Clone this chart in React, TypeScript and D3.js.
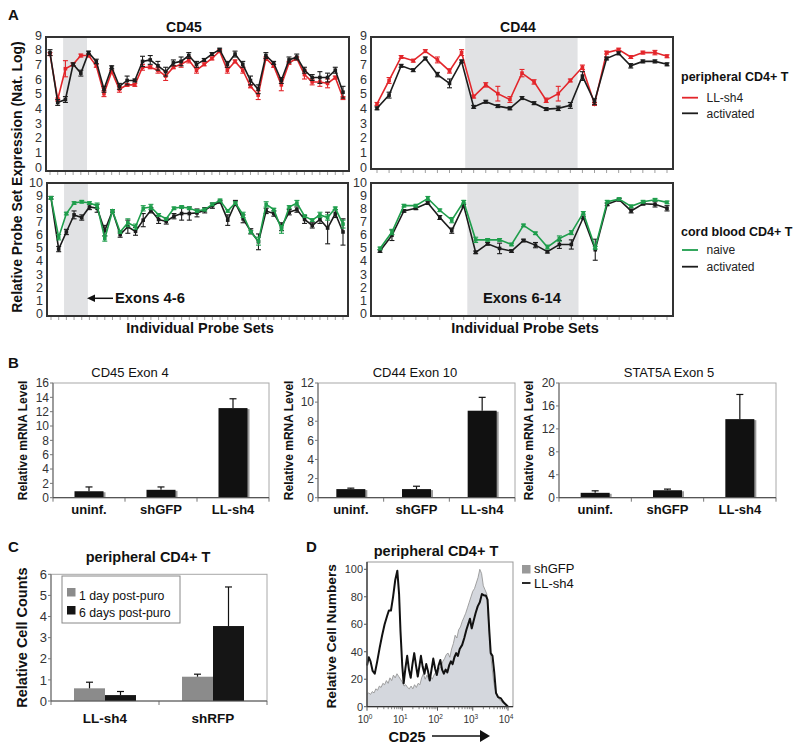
import React from "react";
import * as d3 from "d3";

const FONT = "'Liberation Sans', Arial, Helvetica, sans-serif";

// ---------------- Panel A data ----------------
const cd45Activated = [7.8,4.4,4.6,7.0,6.4,7.8,7.2,5.3,6.8,5.5,5.9,5.9,7.2,7.3,6.9,6.5,7.1,7.2,7.6,7.0,7.3,7.7,8.0,7.0,7.7,7.0,5.9,5.3,7.6,7.1,5.9,7.3,7.5,6.6,6.1,6.1,6.1,6.6,5.1];
const cd45ActivatedErr = [0.2,0.2,0.2,0.1,0.2,0.1,0.15,0.2,0.1,0.2,0.3,0.1,0.35,0.3,0.3,0.3,0.2,0.3,0.2,0.2,0.1,0.1,0.1,0.2,0.2,0.2,0.3,0.3,0.2,0.1,0.2,0.2,0.2,0.2,0.2,0.4,0.3,0.2,0.4];
const cd45LLsh4 = [7.7,4.6,6.7,7.0,7.6,7.6,6.9,5.0,6.5,5.3,5.6,5.6,6.8,6.8,6.6,6.2,6.8,7.0,7.3,6.6,7.0,7.4,7.9,6.6,7.2,6.6,5.5,4.9,7.4,6.9,5.6,7.1,7.4,6.3,5.8,5.8,5.7,6.1,4.7];
const cd45LLsh4Err = [0.1,0.1,0.55,0.1,0.1,0.1,0.1,0.2,0.1,0.2,0.1,0.1,0.2,0.1,0.2,0.3,0.1,0.2,0.2,0.2,0.1,0.1,0.1,0.2,0.1,0.2,0.1,0.3,0.1,0.1,0.4,0.1,0.1,0.3,0.2,0.3,0.3,0.1,0.1];

const cd44Activated = [4.0,4.9,6.9,6.6,7.4,6.3,5.7,7.2,4.1,4.45,4.15,4.0,4.7,4.35,3.95,4.0,4.2,6.2,4.45,7.4,7.75,6.9,7.2,7.2,7.0];
const cd44ActivatedErr = [0.1,0.2,0.1,0.1,0.1,0.15,0.3,0.1,0.1,0.1,0.1,0.1,0.1,0.1,0.1,0.15,0.2,0.3,0.2,0.1,0.1,0.15,0.1,0.1,0.1];
const cd44LLsh4 = [4.3,5.9,7.5,7.25,7.9,7.3,6.55,7.8,4.8,5.6,5.0,4.6,6.4,5.8,4.55,5.0,5.9,6.8,4.3,7.8,8.0,7.5,7.8,7.8,7.55];
const cd44LLsh4Err = [0.1,0.2,0.1,0.1,0.1,0.2,0.15,0.2,0.1,0.15,0.5,0.2,0.25,0.15,0.15,0.5,0.1,0.15,0.1,0.1,0.1,0.1,0.1,0.15,0.1];

const cbCd45Activated = [8.8,4.9,6.2,7.5,7.3,8.1,8.0,6.3,7.8,6.0,6.6,6.25,7.1,7.85,7.15,7.0,7.4,7.6,7.6,7.65,7.85,8.2,8.5,7.1,8.4,7.2,6.25,5.45,7.8,7.6,6.6,7.7,7.9,7.15,6.7,7.15,6.5,7.6,6.2];
const cbCd45ActivatedErr = [0.1,0.2,0.2,0.3,0.2,0.2,0.3,0.4,0.1,0.2,0.5,0.3,0.5,0.2,0.3,0.2,0.2,0.5,0.5,0.3,0.2,0.2,0.1,0.4,0.2,0.3,0.2,0.6,0.2,0.2,0.3,0.2,0.2,0.3,0.2,0.3,1.2,0.3,1.0];
const cbCd45Naive = [8.8,5.8,7.6,8.4,8.5,8.4,8.2,5.7,7.8,6.2,6.9,6.6,8.0,8.1,7.5,7.2,8.0,8.1,8.0,7.8,7.9,8.3,8.6,7.8,8.4,7.5,6.2,5.5,8.3,7.9,6.4,8.1,8.4,7.4,7.1,7.5,7.3,8.0,6.8];
const cbCd45NaiveErr = [0.1,0.2,0.1,0.1,0.1,0.1,0.2,0.2,0.1,0.1,0.3,0.2,0.2,0.2,0.1,0.1,0.1,0.1,0.1,0.1,0.1,0.1,0.1,0.1,0.1,0.2,0.1,0.3,0.2,0.1,0.3,0.1,0.2,0.1,0.1,0.2,0.2,0.1,0.3];

const cbCd44Activated = [4.75,5.95,7.8,8.0,8.4,7.3,6.3,8.2,4.65,5.3,4.95,4.75,5.55,5.2,4.7,5.25,5.25,7.3,4.85,8.3,8.65,7.8,8.35,8.3,8.0];
const cbCd44ActivatedErr = [0.1,0.4,0.1,0.1,0.1,0.15,0.2,0.1,0.1,0.1,0.4,0.1,0.1,0.2,0.1,0.3,0.35,0.1,0.8,0.1,0.1,0.15,0.1,0.2,0.2];
const cbCd44Naive = [4.95,6.2,8.2,8.2,8.75,7.85,7.1,8.5,5.6,5.6,5.6,5.25,6.7,6.1,5.05,5.7,6.15,7.65,5.0,8.5,8.7,8.15,8.5,8.65,8.45];
const cbCd44NaiveErr = [0.1,0.2,0.1,0.1,0.15,0.1,0.2,0.1,0.2,0.1,0.1,0.1,0.1,0.1,0.15,0.2,0.15,0.1,0.1,0.1,0.1,0.1,0.1,0.1,0.1];

// shaded exon regions (in probe-set index units)
const cd45Shade = [1.7, 4.8];
const cd44Shade = [7.3, 16.6];

// ---------------- Panel B data ----------------
const bCategories = ["uninf.", "shGFP", "LL-sh4"];
const cd45Exon4 = [0.9, 1.1, 12.5];
const cd45Exon4Err = [0.6, 0.4, 1.3];
const cd44Exon10 = [0.9, 0.9, 9.1];
const cd44Exon10Err = [0.1, 0.3, 1.4];
const stat5aExon5 = [0.85, 1.3, 13.7];
const stat5aExon5Err = [0.35, 0.2, 4.3];

// ---------------- Panel C data ----------------
const cCategories = ["LL-sh4", "shRFP"];
const day1 = [0.6, 1.15];
const day1Err = [0.29, 0.12];
const day6 = [0.28, 3.55];
const day6Err = [0.17, 1.85];

// ---------------- Panel D data (log10 CD25, % of max) ----------------
const llsh4Log = [0.00,0.05,0.10,0.16,0.22,0.29,0.36,0.43,0.50,0.57,0.62,0.68,0.74,0.80,0.86,0.91,0.95,1.00,1.04,1.09,1.14,1.19,1.24,1.29,1.34,1.39,1.44,1.49,1.53,1.58,1.63,1.68,1.73,1.78,1.83,1.88,1.93,1.98,2.03,2.08,2.13,2.18,2.23,2.28,2.33,2.38,2.43,2.48,2.53,2.58,2.63,2.70,2.76,2.82,2.87,2.92,2.97,3.02,3.08,3.14,3.20,3.26,3.32,3.37,3.42,3.47,3.51,3.56,3.61,3.66,3.72,3.80,3.88,3.96,4.00];
const llsh4Count = [30,36,33,26,24,33,43,52,60,66,70,70,80,92,99,82,55,30,17,28,37,27,21,31,39,30,22,30,37,29,24,31,26,19,27,35,28,23,30,34,27,24,27,25,30,33,31,36,39,37,42,45,50,56,60,64,57,62,68,73,76,82,81,81,78,55,39,37,25,10,7,6,3,1,0];
const shgfpLog = [0,0.05,0.1,0.15,0.2,0.25,0.3,0.35,0.4,0.45,0.5,0.55,0.6,0.65,0.7,0.75,0.8,0.85,0.9,0.95,1.0,1.05,1.1,1.15,1.2,1.25,1.3,1.35,1.4,1.45,1.5,1.55,1.6,1.65,1.7,1.75,1.8,1.85,1.9,1.95,2.0,2.05,2.1,2.15,2.2,2.25,2.3,2.35,2.4,2.45,2.5,2.55,2.6,2.65,2.7,2.75,2.8,2.85,2.9,2.95,3.0,3.05,3.1,3.15,3.2,3.25,3.3,3.35,3.4,3.45,3.5,3.55,3.6,3.65,3.7,3.8,3.9,4.0];
const shgfpCount = [9,10,9,11,10,13,12,15,14,17,16,19,17,21,19,23,21,24,22,20,18,15,16,14,13,15,13,16,14,17,16,21,24,20,23,20,22,20,23,25,24,28,29,33,35,38,39,36,42,46,52,50,56,58,62,65,68,72,76,80,84,86,90,94,100,97,88,85,82,61,40,28,17,11,7,4,2,0];
const dYTicks = [0, 20, 40, 60, 80, 100];
const dXExponents = [0, 1, 2, 3, 4];

const RED = "#e3262b";
const GREEN = "#1f9e4c";
const BLACK = "#1c1c1c";

type Series = { values: number[]; errors: number[]; color: string };

function LinePanel(props: {
  left: number; right: number; top: number; bottom: number;
  yMax: number; y0: number; yTop: number; xFirst: number; xLast: number;
  shade: number[]; series: Series[];
}) {
  const { left, right, top, bottom, yMax, y0, yTop, xFirst, xLast, shade, series } = props;
  const n = series[0].values.length;
  const x = d3.scaleLinear().domain([0, n - 1]).range([xFirst, xLast]);
  const y = d3.scaleLinear().domain([0, yMax]).range([y0, yTop]);
  const line = d3.line<number>().x((_, i) => x(i)).y((d) => y(d));
  return (
    <g>
      <rect x={x(shade[0])} y={top} width={x(shade[1]) - x(shade[0])} height={bottom - top} fill="#e1e2e4" />
      {d3.range(yMax + 1).map((v) => (
        <text key={v} x={left - 4} y={y(v)} dy="0.36em" textAnchor="end" fontSize={12.5} fill="#333">{v}</text>
      ))}
      {d3.range(n).map((i) => (
        <line key={i} x1={x(i)} x2={x(i)} y1={bottom + 1} y2={bottom + 4} stroke="#777" strokeWidth={0.7} />
      ))}
      {series.map((s, si) => (
        <g key={si}>
          <path d={line(s.values) || ""} fill="none" stroke={s.color} strokeWidth={1.6} />
          {s.values.map((v, i) => (
            <g key={i} stroke={s.color} strokeWidth={1.1}>
              <line x1={x(i)} x2={x(i)} y1={y(v - s.errors[i])} y2={y(v + s.errors[i])} />
              <line x1={x(i) - 2.5} x2={x(i) + 2.5} y1={y(v - s.errors[i])} y2={y(v - s.errors[i])} />
              <line x1={x(i) - 2.5} x2={x(i) + 2.5} y1={y(v + s.errors[i])} y2={y(v + s.errors[i])} />
            </g>
          ))}
          {s.values.map((v, i) => (
            <rect key={"m" + i} x={x(i) - 1.8} y={y(v) - 1.8} width={3.6} height={3.6} fill={s.color} />
          ))}
        </g>
      ))}
      <rect x={left} y={top} width={right - left} height={bottom - top} fill="none" stroke="#333" strokeWidth={2} />
    </g>
  );
}

function BarPanel(props: {
  left: number; right: number; top: number; bottom: number; yMax: number; yStep: number;
  values: number[]; errors: number[]; title: string; titleX: number; labelX: number;
}) {
  const { left, right, top, bottom, yMax, yStep, values, errors, title, titleX, labelX } = props;
  const x = d3.scaleBand().domain(bCategories).range([left, right]);
  const y = d3.scaleLinear().domain([0, yMax]).range([bottom, top]);
  const bw = 29;
  return (
    <g>
      <text x={titleX} y={377} textAnchor="middle" fontSize={13} fill="#111">{title}</text>
      <rect x={left} y={top} width={right - left} height={bottom - top} fill="none" stroke="#a8a8a8" strokeWidth={1} />
      {d3.range(0, yMax + 0.001, yStep).map((v) => (
        <g key={v}>
          <line x1={left - 3} x2={left} y1={y(v)} y2={y(v)} stroke="#777" />
          <text x={left - 4} y={y(v)} dy="0.36em" textAnchor="end" fontSize={12} fill="#333">{v}</text>
        </g>
      ))}
      {bCategories.map((c, i) => {
        const cx = (x(c) as number) + x.bandwidth() / 2;
        return (
          <g key={c}>
            <rect x={cx - bw / 2 + 2} y={y(values[i]) + 1} width={bw} height={bottom - y(values[i]) - 1} fill="#9a9a9a" />
            <rect x={cx - bw / 2} y={y(values[i])} width={bw} height={bottom - y(values[i])} fill="#111" />
            <line x1={cx} x2={cx} y1={y(values[i])} y2={y(values[i] + errors[i])} stroke="#111" strokeWidth={1.2} />
            <line x1={cx - 3.5} x2={cx + 3.5} y1={y(values[i] + errors[i])} y2={y(values[i] + errors[i])} stroke="#111" strokeWidth={1.2} />
            <text x={cx} y={514} textAnchor="middle" fontSize={13} fontWeight="bold" fill="#111">{c}</text>
          </g>
        );
      })}
      {[0, 1, 2, 3].map((k) => (
        <line key={k} x1={left + k * x.step()} x2={left + k * x.step()} y1={bottom} y2={bottom + 4} stroke="#777" />
      ))}
      <line x1={left} x2={left} y1={top} y2={bottom} stroke="#777" strokeWidth={1.2} />
      <line x1={left} x2={right} y1={bottom} y2={bottom} stroke="#555" strokeWidth={1.2} />
      <text transform={`translate(${labelX},${(top + bottom) / 2}) rotate(-90)`} textAnchor="middle" fontSize={12} fontWeight="bold" fill="#111">Relative mRNA Level</text>
    </g>
  );
}

function PanelC() {
  const left = 51, right = 267, top = 574.3, bottom = 701;
  const x = d3.scaleBand().domain(cCategories).range([left, right]);
  const y = d3.scaleLinear().domain([0, 6]).range([bottom, top]);
  const bw = 31;
  return (
    <g>
      <text x={148} y={562} textAnchor="middle" fontSize={14.5} fontWeight="bold" fill="#111">peripheral CD4+ T</text>
      <rect x={left} y={top} width={right - left} height={bottom - top} fill="none" stroke="#a8a8a8" />
      {d3.range(0, 7).map((v) => (
        <g key={v}>
          <line x1={left - 3} x2={left} y1={y(v)} y2={y(v)} stroke="#777" />
          <text x={left - 4} y={y(v)} dy="0.36em" textAnchor="end" fontSize={13} fill="#333">{v}</text>
        </g>
      ))}
      {cCategories.map((c, i) => {
        const cx = (x(c) as number) + x.bandwidth() / 2;
        const g1 = cx - bw, g2 = cx;
        return (
          <g key={c}>
            <rect x={g1} y={y(day1[i])} width={bw} height={bottom - y(day1[i])} fill="#8b8b8b" />
            <rect x={g2} y={y(day6[i])} width={bw} height={bottom - y(day6[i])} fill="#151515" />
            <line x1={g1 + bw / 2} x2={g1 + bw / 2} y1={y(day1[i])} y2={y(day1[i] + day1Err[i])} stroke="#111" strokeWidth={1.2} />
            <line x1={g1 + bw / 2 - 3.5} x2={g1 + bw / 2 + 3.5} y1={y(day1[i] + day1Err[i])} y2={y(day1[i] + day1Err[i])} stroke="#111" strokeWidth={1.2} />
            <line x1={g2 + bw / 2} x2={g2 + bw / 2} y1={y(day6[i])} y2={y(day6[i] + day6Err[i])} stroke="#111" strokeWidth={1.2} />
            <line x1={g2 + bw / 2 - 3.5} x2={g2 + bw / 2 + 3.5} y1={y(day6[i] + day6Err[i])} y2={y(day6[i] + day6Err[i])} stroke="#111" strokeWidth={1.2} />
            <text x={cx} y={723} textAnchor="middle" fontSize={13.5} fontWeight="bold" fill="#111">{c}</text>
          </g>
        );
      })}
      {[0, 1, 2].map((k) => (
        <line key={k} x1={left + k * x.step()} x2={left + k * x.step()} y1={bottom} y2={bottom + 4} stroke="#777" />
      ))}
      <line x1={left} x2={left} y1={top} y2={bottom} stroke="#777" strokeWidth={1.2} />
      <line x1={left} x2={right} y1={bottom} y2={bottom} stroke="#555" strokeWidth={1.2} />
      <rect x={62} y={576} width={118} height={47} fill="#fff" stroke="#888" />
      <rect x={67} y={588} width={8.5} height={8.5} fill="#8b8b8b" />
      <text x={79} y={600} fontSize={12.3} fill="#111">1 day post-puro</text>
      <rect x={67} y={606} width={8.5} height={8.5} fill="#151515" />
      <text x={79} y={617} fontSize={12.3} fill="#111">6 days post-puro</text>
      <text transform={`translate(27,${(top + bottom) / 2}) rotate(-90)`} textAnchor="middle" fontSize={14.5} fontWeight="bold" fill="#111">Relative Cell Counts</text>
    </g>
  );
}

function PanelD() {
  const left = 367, right = 513, top = 562, bottom = 706.7;
  const x = d3.scaleLinear().domain([0, 4]).range([367, 508]);
  const y = d3.scaleLinear().domain([0, 100]).range([706.7, 569.3]);
  const area = d3.area<number>().x((_, i) => x(shgfpLog[i])).y0(y(0)).y1((d) => y(d));
  const gLine = d3.line<number>().x((_, i) => x(shgfpLog[i])).y((d) => y(d));
  const bLine = d3.line<number>().x((_, i) => x(llsh4Log[i])).y((d) => y(d));
  const minor: number[] = [];
  for (let dec = 0; dec < 4; dec++) for (let m = 2; m <= 9; m++) minor.push(dec + Math.log10(m));
  return (
    <g>
      <text x={436} y={556} textAnchor="middle" fontSize={14.5} fontWeight="bold" fill="#111">peripheral CD4+ T</text>
      <path d={area(shgfpCount) || ""} fill="#d4d7dd" />
      <path d={gLine(shgfpCount) || ""} fill="none" stroke="#8d8d8d" strokeWidth={0.8} />
      <path d={bLine(llsh4Count) || ""} fill="none" stroke="#111" strokeWidth={2} strokeLinejoin="round" />
      <rect x={left} y={top} width={right - left} height={bottom - top} fill="none" stroke="#999" />
      <line x1={left} x2={left} y1={top} y2={bottom} stroke="#333" strokeWidth={1.3} />
      <line x1={left} x2={right} y1={bottom} y2={bottom} stroke="#333" strokeWidth={1.3} />
      {dYTicks.map((v) => (
        <g key={v}>
          <line x1={left - 3} x2={left} y1={y(v)} y2={y(v)} stroke="#555" />
          <text x={left - 4} y={y(v)} dy="0.36em" textAnchor="end" fontSize={11} fill="#333">{v}</text>
        </g>
      ))}
      {minor.map((m, i) => (
        <line key={i} x1={x(m)} x2={x(m)} y1={bottom} y2={bottom + 2.5} stroke="#555" strokeWidth={0.7} />
      ))}
      {dXExponents.map((e) => (
        <g key={e}>
          <line x1={x(e)} x2={x(e)} y1={bottom} y2={bottom + 4} stroke="#555" />
          <text x={x(e) - 2} y={723} textAnchor="middle" fontSize={10} fill="#333">
            10<tspan dy={-4} fontSize={6.5}>{e}</tspan>
          </text>
        </g>
      ))}
      <text x={407} y={741.5} textAnchor="middle" fontSize={14.5} fontWeight="bold" fill="#111">CD25</text>
      <line x1={432} x2={481} y1={736} y2={736} stroke="#111" strokeWidth={1.5} />
      <path d="M480,730 L490,736 L480,742 Z" fill="#111" />
      <text transform={`translate(336,${(top + bottom) / 2 + 2}) rotate(-90)`} textAnchor="middle" fontSize={13.7} fontWeight="bold" fill="#111">Relative Cell Numbers</text>
      <rect x={522} y={565} width={8.5} height={8.5} fill="#999" />
      <text x={534} y={573} fontSize={13} fill="#111">shGFP</text>
      <line x1={522} x2={530.5} y1={583} y2={583} stroke="#111" strokeWidth={1.8} />
      <text x={534} y={588} fontSize={13} fill="#111">LL-sh4</text>
    </g>
  );
}

export default function App() {
  return (
    <svg width={800} height={750} style={{ position: "absolute", left: 0, top: 0, background: "#fff" }} fontFamily={FONT}>
      <rect width={800} height={750} fill="#fff" />
      {/* Panel A */}
      <text x={8} y={20} fontSize={15} fontWeight="bold" fill="#111">A</text>
      <text x={184} y={32} textAnchor="middle" fontSize={14} fontWeight="bold" fill="#111">CD45</text>
      <text x={518} y={32} textAnchor="middle" fontSize={14} fontWeight="bold" fill="#111">CD44</text>
      <LinePanel left={46} right={349} top={37} bottom={171} yMax={9} y0={167} yTop={35} xFirst={50} xLast={343}
        shade={cd45Shade}
        series={[{ values: cd45LLsh4, errors: cd45LLsh4Err, color: RED }, { values: cd45Activated, errors: cd45ActivatedErr, color: BLACK }]} />
      <LinePanel left={371} right={673} top={37} bottom={169} yMax={9} y0={167} yTop={35} xFirst={377} xLast={667}
        shade={cd44Shade}
        series={[{ values: cd44LLsh4, errors: cd44LLsh4Err, color: RED }, { values: cd44Activated, errors: cd44ActivatedErr, color: BLACK }]} />
      <LinePanel left={47} right={348} top={183} bottom={316} yMax={10} y0={313.5} yTop={182} xFirst={51} xLast={343}
        shade={cd45Shade}
        series={[{ values: cbCd45Activated, errors: cbCd45ActivatedErr, color: BLACK }, { values: cbCd45Naive, errors: cbCd45NaiveErr, color: GREEN }]} />
      <LinePanel left={371} right={673} top={183} bottom={316} yMax={10} y0={313.5} yTop={182} xFirst={380} xLast={667}
        shade={cd44Shade}
        series={[{ values: cbCd44Activated, errors: cbCd44ActivatedErr, color: BLACK }, { values: cbCd44Naive, errors: cbCd44NaiveErr, color: GREEN }]} />
      <text transform="translate(22,177) rotate(-90)" textAnchor="middle" fontSize={14} fontWeight="bold" fill="#111">Relative Probe Set Expression (Nat. Log)</text>
      <text x={200} y={333} textAnchor="middle" fontSize={14.5} fontWeight="bold" fill="#111">Individual Probe Sets</text>
      <text x={525} y={333} textAnchor="middle" fontSize={14.5} fontWeight="bold" fill="#111">Individual Probe Sets</text>
      {/* annotations */}
      <line x1={94} x2={113} y1={298.3} y2={298.3} stroke="#111" strokeWidth={1.5} />
      <path d="M87,298.3 L95,294.5 L95,302 Z" fill="#111" />
      <text x={115} y={303} fontSize={14.8} fontWeight="bold" fill="#111">Exons 4-6</text>
      <text x={522} y={302.7} textAnchor="middle" fontSize={14.8} fontWeight="bold" fill="#111">Exons 6-14</text>
      {/* legends */}
      <text x={681} y={81} fontSize={12.5} fontWeight="bold" fill="#111">peripheral CD4+ T</text>
      <line x1={682} x2={698} y1={97.7} y2={97.7} stroke={RED} strokeWidth={1.8} />
      <text x={706.5} y={101.5} fontSize={12} fill="#222">LL-sh4</text>
      <line x1={682} x2={698} y1={113.3} y2={113.3} stroke={BLACK} strokeWidth={1.8} />
      <text x={706.5} y={117.5} fontSize={12} fill="#222">activated</text>
      <text x={681} y={235.5} fontSize={12.5} fontWeight="bold" fill="#111">cord blood CD4+ T</text>
      <line x1={682} x2={698} y1={250} y2={250} stroke={GREEN} strokeWidth={1.8} />
      <text x={706.5} y={254} fontSize={12} fill="#222">naive</text>
      <line x1={682} x2={698} y1={266.7} y2={266.7} stroke={BLACK} strokeWidth={1.8} />
      <text x={706.5} y={270.5} fontSize={12} fill="#222">activated</text>

      {/* Panel B */}
      <text x={8} y={368} fontSize={15} fontWeight="bold" fill="#111">B</text>
      <BarPanel left={53} right={269} top={383} bottom={497.7} yMax={16} yStep={2} values={cd45Exon4} errors={cd45Exon4Err} title="CD45 Exon 4" titleX={130} labelX={27} />
      <BarPanel left={318} right={515} top={383} bottom={497.7} yMax={12} yStep={2} values={cd44Exon10} errors={cd44Exon10Err} title="CD44 Exon 10" titleX={415} labelX={293} />
      <BarPanel left={559} right={776} top={383} bottom={497.7} yMax={20} yStep={4} values={stat5aExon5} errors={stat5aExon5Err} title="STAT5A Exon 5" titleX={669} labelX={533} />

      {/* Panel C */}
      <text x={8} y={552} fontSize={15} fontWeight="bold" fill="#111">C</text>
      <PanelC />

      {/* Panel D */}
      <text x={306} y={552} fontSize={15} fontWeight="bold" fill="#111">D</text>
      <PanelD />
    </svg>
  );
}
